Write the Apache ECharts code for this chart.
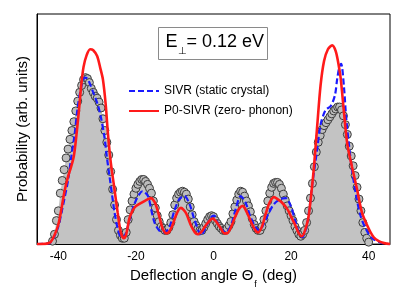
<!DOCTYPE html>
<html><head><meta charset="utf-8">
<script src="https://cdn.jsdelivr.net/npm/echarts@6/dist/echarts.min.js"></script>
<style>html,body{margin:0;padding:0;background:#fff}#c{width:415px;height:294px}</style>
</head><body><div id="c"></div>
<script>
// Gray: measured data (circles + filled area)
var grayX = [
 -41.5,-41,-40.5,-40,-39.5,-39,-38.5,-38,-37.5,-37,
 -36.5,-36,-35.5,-35,-34.5,-34,-33.5,-33,-32.5,-32,
 -31.5,-31,-30.5,-30,-29.5,-29,-28.5,-28,-27.5,-27,
 -26.5,-26,-25.5,-25,-24.5,-24,-23.5,-23,-22.5,-22,
 -21.5,-21,-20.5,-20,-19.5,-19,-18.5,-18,-17.5,-17,
 -16.5,-16,-15.5,-15,-14.5,-14,-13.5,-13,-12.5,-12,
 -11.5,-11,-10.5,-10,-9.5,-9,-8.5,-8,-7.5,-7,
 -6.5,-6,-5.5,-5,-4.5,-4,-3.5,-3,-2.5,-2,
 -1.5,-1,-0.5,0,0.5,1,1.5,2,2.5,3,
 3.5,4,4.5,5,5.5,6,6.5,7,7.5,8,
 8.5,9,9.5,10,10.5,11,11.5,12,12.5,13,
 13.5,14,14.5,15,15.5,16,16.5,17,17.5,18,
 18.5,19,19.5,20,20.5,21,21.5,22,22.5,23,
 23.5,24,24.5,25,25.5,26,26.5,27,27.5,28,
 28.5,29,29.5,30,30.5,31,31.5,32,32.5,33,
 33.5,34,34.5,35,35.5,36,36.5,37,37.5,38,
 38.5,39,39.5,40];
var grayY = [
 3,10,24,34,52,65,76,88,97,107,
 116,125,136,146,155,162,168,170,169,165,
 159,155,151,149,145,139,128,116,104,91,
 74,56,40,25,14,9,6,6,12,25,
 35,44,51,57,61,64,66,66,64,61,
 57,52,44,37,29,23,18,16,14,14,
 17,22,30,40,47,51,53,54,53,51,
 46,38,30,23,19,16,14,14,17,21,
 25,28,29,28,24,21,18,16,14,14,
 16,19,23,31,38,45,51,54,53,49,
 44,39,33,26,20,16,14,14,18,25,
 34,44,52,58,62,63,63,61,57,51,
 45,39,34,29,24,18,14,10,8,10,
 14,22,34,47,62,79,94,104,111,117,
 121,124,127,130,133,136,138,140,140,137,
 131,122,112,100,90,80,70,58,46,34,
 22,12,6,2];
// Red: P0-SIVR (zero-phonon)
var redX = [-45.5,-43,-42,-41,-40,-39.2,-38.4,-37.5,-36.7,-36,-35.4,-34.7,-34.1,-33.5,-32.7,-31.8,-31,-30,-29.2,-28.5,-27.8,-27.2,-26.5,-25.6,-24.7,-23.9,-23.1,-22.5,-21.7,-20.9,-20.2,-19.1,-17.8,-16.8,-16.1,-15.2,-14.6,-13.9,-13.1,-12.2,-11.5,-10.6,-9.8,-9,-8.4,-7.7,-7,-5.8,-4.8,-4.1,-3,-2.2,-1.2,-0.3,0.5,1.2,1.9,2.8,3.5,4.5,5.6,6.6,7.5,8.4,9.2,10.1,11,11.5,12.5,13.4,14.4,15.6,16.5,17.5,19,20,21,22,22.8,23.6,24.5,25.3,25.9,26.7,27.6,28.5,29.5,30.6,31.5,32.3,32.8,33.6,34.5,35.7,37,38.3,40,41.3,42.6,44,45.5];
var redY = [0,0.5,2,9,20,36,54,69,79,90,109,136,162,181,193,199,198,192,180,168,143,112,84,58,32,12,6,10,26,34,38,41,44,46,47,43,37,27,16,11,12,19,28,35,37,35,31,19,12,10,13,18,23,26,24,20,16,11,11,17,28,36,39,34,27,19,13,12,18,30,42,48,46,43,36,28,20,11,8,14,28,55,79,119,162,187,199,203,197,182,169,136,102,79,56,32,16,7,3,1,0];
// Blue: SIVR (static crystal)
var blueX = [-45.5,-43,-42.2,-41,-40,-39.2,-38.4,-37.5,-36.7,-35.8,-35,-34.1,-33.2,-32.5,-32,-31.1,-29.8,-29,-28.1,-27.5,-26.8,-26.1,-25.5,-24.7,-23.8,-23,-22.3,-21.7,-20.4,-19.1,-18.3,-16.9,-16.1,-15.2,-14,-12.7,-11.4,-10.1,-8.8,-7.5,-6.2,-5,-3.7,-3.2,-2,-0.7,0.2,0.8,1.9,3.2,4.5,5.8,7,8.3,9.6,10.9,11.8,13,14.3,15.6,17.3,18.6,19.9,21.2,22,22.9,24.2,25.5,26.7,27.6,28.9,30.2,31.3,31.9,32.5,32.9,33.6,34.2,34.9,35.7,36.8,37.9,39.2,40.9,43.5,45.5];
var blueY = [0,0.5,1,8,18,32,47,65,88,112,140,160,170,169,165,156,142,129,109,89,69,49,32,16,7,8,15,24,41,51,54,49,36,22,14,12,17,34,46,49,41,26,12,9,17,27,29,24,16,12,19,37,49,42,27,17,14,21,32,41,46,47,39,22,12,7,22,62,96,122,137,141,152,169,182,184,162,129,102,76,49,29,16,6,1,0];
var xTickLabels = [-40,-20,0,20,40];
var xTicks = [-40,-30,-20,-10,0,10,20,30,40];

function pairs(xs, ys){ return xs.map(function(x,i){ return [x, ys[i]]; }); }

var chart = echarts.init(document.getElementById('c'), null, {renderer:'canvas'});
var font = 'Liberation Sans, Arial, sans-serif';
chart.setOption({
  animation: false,
  textStyle: {fontFamily: font},
  grid: {left: 37, right: 25, top: 14, bottom: 45, show: true, borderColor: '#000', borderWidth: 1, backgroundColor: 'transparent'},
  xAxis: {
    type: 'value', min: -45.5, max: 45.5,
    name: '{m|Deflection angle Θ}{s|f}{m| (deg)}', nameLocation: 'middle', nameGap: 19,
    nameTextStyle: {fontSize: 15, color: '#000', fontFamily: font,
      rich: {m: {fontSize: 15, fontFamily: font, verticalAlign: 'top', lineHeight: 18},
             s: {fontSize: 9, fontFamily: font, verticalAlign: 'top', lineHeight: 18, padding: [12, 1, 0, 1]}}},
    axisLine: {onZero: false, lineStyle: {color: '#000', width: 1}},
    axisTick: {inside: true, length: 4, customValues: xTicks, lineStyle: {color: '#000'}},
    axisLabel: {customValues: xTickLabels, color: '#000', fontSize: 12, margin: 7, fontFamily: font},
    splitLine: {show: false}
  },
  yAxis: {
    type: 'value', min: 0, max: 235,
    name: 'Probability (arb. units)', nameLocation: 'middle', nameGap: 7,
    nameTextStyle: {fontSize: 15, color: '#000', fontFamily: font},
    axisLine: {show: true, onZero: false, lineStyle: {color: '#000', width: 1}},
    axisTick: {show: false}, axisLabel: {show: false}, splitLine: {show: false}
  },
  legend: {
    data: ['SIVR (static crystal)', 'P0-SIVR (zero- phonon)'],
    orient: 'vertical', left: 123, top: 80, itemGap: 8, itemWidth: 30, itemHeight: 10,
    itemStyle: {opacity: 0},
    textStyle: {fontSize: 12, color: '#000', fontFamily: font}
  },
  graphic: [{
    type: 'group', left: 158, top: 27,
    children: [
      {type: 'rect', shape: {x: 0, y: 0, width: 109, height: 32}, style: {fill: '#fff', stroke: '#8a8a8a', lineWidth: 1}},
      {type: 'text', x: 7, y: 6, style: {text: '{e|E}{s|⊥}{t|= 0.12 eV}', align: 'left', verticalAlign: 'top',
        rich: {e: {fontSize: 18, fontFamily: font, fill: '#000', verticalAlign: 'top', lineHeight: 22},
               s: {fontSize: 10, fontFamily: font, fill: '#000', verticalAlign: 'top', lineHeight: 22, padding: [13, 0, 0, 0]},
               t: {fontSize: 18, fontFamily: font, fill: '#000', verticalAlign: 'top', lineHeight: 22}}}}
    ]
  }],
  series: [
    {name: 'gray-area', type: 'line', data: pairs(grayX, grayY), showSymbol: false, symbol: 'none',
     lineStyle: {width: 0}, areaStyle: {color: '#c3c3c3', opacity: 1}, z: 1, silent: true},
    {name: 'gray-pts', type: 'scatter', data: pairs(grayX, grayY), symbol: 'circle', symbolSize: 8,
     itemStyle: {color: '#bdbdbd', borderColor: '#3c3c3c', borderWidth: 1, opacity: 1}, z: 2, silent: true},
    {name: 'SIVR (static crystal)', type: 'line', data: pairs(blueX, blueY), symbol: 'none', smooth: 0.3,
     lineStyle: {color: '#1a1aff', width: 2.2, type: [6, 3]}, itemStyle: {color: '#1a1aff'}, z: 3},
    {name: 'P0-SIVR (zero- phonon)', type: 'line', data: pairs(redX, redY), symbol: 'none', smooth: 0.3,
     lineStyle: {color: '#ff1a1a', width: 2.6}, itemStyle: {color: '#ff1a1a'}, z: 4}
  ]
});
</script></body></html>
